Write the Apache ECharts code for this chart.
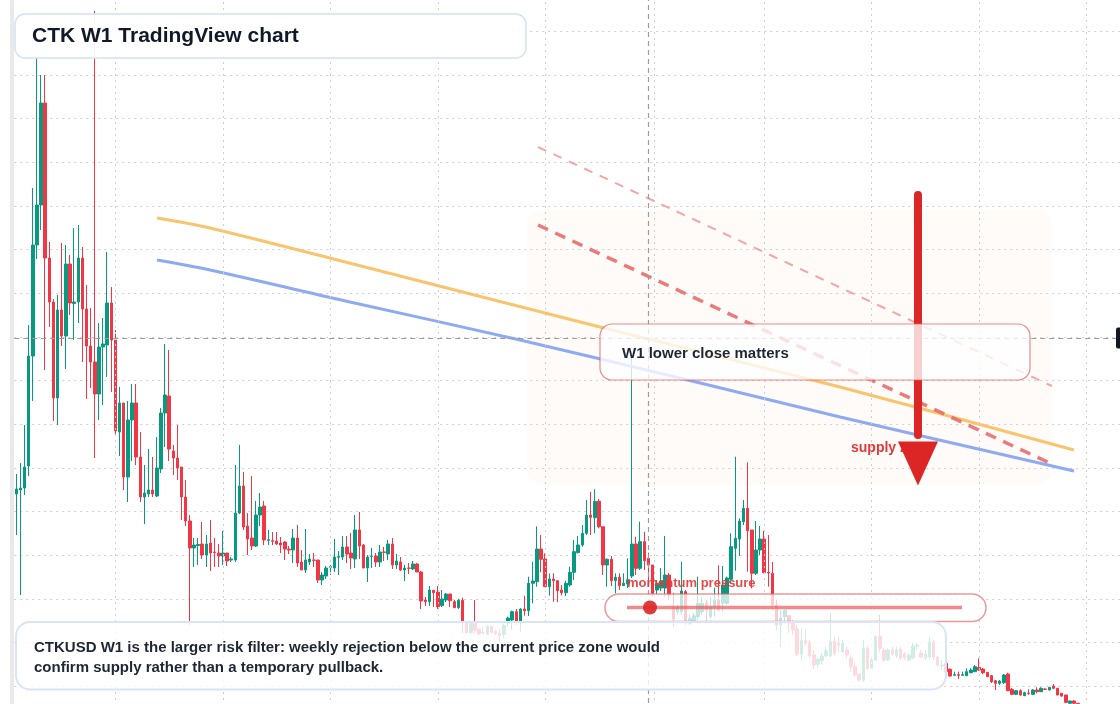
<!DOCTYPE html>
<html><head><meta charset="utf-8">
<script src="https://cdn.jsdelivr.net/npm/echarts@6/dist/echarts.min.js"></script>
<style>html,body{margin:0;padding:0;background:#fff;overflow:hidden;width:1120px;height:704px;position:relative}
#chart{position:absolute;left:0;top:-13px;width:1122px;height:743px}</style>
</head><body><div id="chart"></div>
<script>
// Weekly CTKUSD candles: [open, high, low, close]
const ohlc = [
[2.36,2.56,1.95,2.41],[2.40,2.67,1.35,2.42],[2.42,3.05,2.35,2.63],[2.64,4.05,2.54,3.74],[3.74,5.42,3.29,4.85],
[4.85,6.72,4.71,5.25],[5.25,6.55,5.00,6.27],[6.27,6.55,3.60,4.72],[4.72,4.88,4.03,4.28],[4.28,4.31,3.09,3.32],
[3.32,4.35,3.05,4.20],[4.20,4.87,3.84,3.94],[3.94,4.85,3.61,4.66],[4.66,4.75,4.15,4.27],[4.265,5.02,3.90,4.28],
[4.28,5.05,4.07,4.72],[4.72,4.83,3.68,4.21],[4.21,4.45,3.31,3.84],[3.84,4.22,3.42,3.68],[3.68,7.19,2.72,3.36],
[3.36,4.07,3.10,3.83],[3.83,4.12,3.25,3.86],[3.85,4.78,3.53,4.27],[4.27,4.43,3.38,3.90],[3.90,4.00,2.95,2.99],
[2.98,3.43,2.74,3.27],[3.27,3.27,2.40,2.53],[2.53,3.29,2.28,3.10],[3.10,3.46,2.69,3.27],[3.27,3.46,2.65,2.73],
[2.73,2.98,2.28,2.33],[2.33,2.65,2.06,2.37],[2.36,2.81,2.33,2.40],[2.40,2.73,2.33,2.36],[2.34,2.93,2.33,2.62],
[2.61,3.22,2.57,3.17],[3.17,3.86,2.83,3.35],[3.34,3.80,2.69,2.81],[2.79,2.85,2.55,2.72],[2.72,3.05,2.50,2.62],
[2.63,2.63,2.10,2.33],[2.33,2.50,2.04,2.09],[2.09,2.15,1.05,1.82],[1.82,1.92,1.63,1.85],[1.845,1.92,1.65,1.855],
[1.86,2.08,1.71,1.75],[1.75,1.95,1.63,1.86],[1.87,2.10,1.59,1.77],[1.78,1.92,1.63,1.775],[1.77,1.86,1.63,1.74],
[1.74,1.99,1.65,1.77],[1.77,1.77,1.64,1.69],[1.70,1.73,1.68,1.71],[1.70,2.65,1.68,2.17],[2.17,2.85,2.16,2.44],
[2.44,2.58,2.00,2.03],[2.04,2.17,1.75,1.91],[1.92,2.54,1.80,1.84],[1.84,2.29,1.83,2.15],[2.15,2.37,2.04,2.23],
[2.24,2.29,1.85,1.90],[1.897,2.00,1.85,1.903],[1.893,1.98,1.85,1.887],[1.89,1.98,1.85,1.86],[1.87,1.93,1.77,1.85],
[1.88,1.89,1.70,1.81],[1.81,1.84,1.76,1.80],[1.80,2.01,1.67,1.92],[1.92,2.05,1.63,1.67],[1.68,1.80,1.60,1.60],
[1.60,2.01,1.57,1.70],[1.68,1.76,1.65,1.71],[1.70,1.77,1.63,1.697],[1.70,1.70,1.47,1.50],[1.50,1.58,1.45,1.55],
[1.54,1.64,1.51,1.62],[1.627,1.65,1.55,1.633],[1.62,1.91,1.58,1.73],[1.727,1.79,1.55,1.733],[1.73,1.94,1.70,1.83],
[1.83,1.94,1.67,1.76],[1.77,1.97,1.61,1.72],[1.71,2.15,1.62,2.00],[2.00,2.18,1.71,1.84],[1.85,1.86,1.62,1.62],
[1.62,1.75,1.48,1.73],[1.737,1.82,1.62,1.74],[1.74,1.77,1.63,1.68],[1.68,1.85,1.63,1.78],[1.78,1.83,1.69,1.777],
[1.76,1.90,1.70,1.86],[1.86,1.92,1.61,1.65],[1.65,1.76,1.61,1.69],[1.68,1.73,1.59,1.60],[1.60,1.65,1.49,1.62],
[1.62,1.67,1.56,1.617],[1.61,1.69,1.60,1.66],[1.66,1.67,1.58,1.58],[1.58,1.59,1.21,1.29],[1.30,1.33,1.24,1.283],
[1.283,1.44,1.24,1.40],[1.397,1.40,1.23,1.373],[1.38,1.44,1.21,1.233],[1.243,1.40,1.23,1.31],[1.30,1.37,1.28,1.36],
[1.36,1.36,1.23,1.293],[1.283,1.30,1.22,1.223],[1.223,1.313,1.21,1.297],[1.297,1.323,0.97,1.077],[1.077,1.077,0.97,0.973],
[0.973,1.087,0.967,1.067],[1.067,1.30,0.967,1.00],[1.01,1.01,0.96,0.96],[0.973,1.033,0.957,0.97],[0.957,1.043,0.953,1.037],
[1.037,1.037,0.967,0.973],[0.99,1.00,0.95,0.967],[0.97,1.01,0.883,0.947],[0.957,1.067,0.917,1.043],[1.073,1.133,1.033,1.12],
[1.10,1.193,1.00,1.183],[1.183,1.21,1.05,1.083],[1.083,1.217,0.983,1.21],[1.21,1.343,1.143,1.193],[1.193,1.533,1.14,1.467],
[1.467,1.683,1.267,1.49],[1.483,2.037,1.433,1.81],[1.81,1.95,1.577,1.707],[1.71,1.767,1.433,1.433],[1.433,1.567,1.343,1.51],
[1.51,1.567,1.283,1.493],[1.493,1.493,1.277,1.393],[1.40,1.45,1.347,1.373],[1.373,1.493,1.34,1.467],[1.45,1.633,1.433,1.577],
[1.577,1.90,1.50,1.783],[1.773,1.94,1.767,1.85],[1.85,2.05,1.833,1.967],[1.967,2.30,1.95,2.15],[2.15,2.383,1.95,2.127],
[2.123,2.407,1.967,2.287],[2.287,2.31,2.017,2.033],[2.033,2.033,1.55,1.65],[1.65,1.717,1.433,1.707],[1.707,1.74,1.44,1.493],
[1.493,1.567,1.367,1.527],[1.527,1.567,1.40,1.443],[1.443,1.567,1.44,1.467],[1.46,1.717,1.42,1.503],[1.54,3.75,1.52,1.86],
[1.86,1.933,1.55,1.617],[1.617,2.083,1.60,1.883],[1.883,1.983,1.60,1.693],[1.717,1.773,1.50,1.65],[1.65,1.65,1.34,1.367],
[1.40,1.50,1.35,1.467],[1.42,1.62,1.39,1.49],[1.42,1.94,1.33,1.55],[1.55,1.57,1.30,1.35],[1.233,1.37,1.03,1.11],
[1.183,1.25,1.15,1.233],[1.183,1.683,1.15,1.39],[1.383,1.40,1.05,1.067],[1.067,1.15,1.05,1.117],[1.093,1.17,1.08,1.143],
[1.133,1.533,1.10,1.267],[1.183,1.33,1.15,1.267],[1.267,1.30,1.09,1.20],[1.133,1.333,1.12,1.233],[1.233,1.423,1.133,1.30],
[1.30,1.647,1.183,1.20],[1.267,1.64,1.183,1.45],[1.267,1.533,1.25,1.52],[1.507,1.967,1.47,1.833],[1.817,2.733,1.593,1.917],
[1.91,2.117,1.74,2.09],[2.083,2.30,2.05,2.217],[2.217,2.677,1.583,1.993],[2.00,2.00,1.417,1.567],[1.567,2.09,1.55,1.80],
[1.80,2.04,1.75,1.91],[1.91,1.99,1.567,1.573],[1.577,1.95,1.433,1.57],[1.567,1.68,1.20,1.25],[1.25,1.30,1.00,1.05],
[1.05,1.20,0.833,1.117],[1.133,1.20,1.067,1.20],[1.143,1.143,0.973,1.067],[1.073,1.10,0.95,1.00],[1.01,1.05,0.74,0.757],
[0.757,1.017,0.693,0.893],[0.893,1.01,0.84,0.867],[0.873,0.90,0.72,0.743],[0.75,0.80,0.61,0.65],[0.657,0.72,0.62,0.707],
[0.693,0.77,0.66,0.74],[0.74,0.833,0.733,0.793],[0.74,1.173,0.73,0.883],[0.883,0.933,0.74,0.767],[0.867,0.933,0.783,0.85],
[0.783,0.90,0.77,0.867],[0.80,0.833,0.72,0.75],[0.717,0.75,0.583,0.633],[0.633,0.667,0.533,0.55],[0.56,0.56,0.483,0.50],
[0.50,0.90,0.48,0.817],[0.817,0.84,0.60,0.617],[0.617,0.73,0.60,0.70],[0.70,0.95,0.69,0.933],[0.933,1.15,0.78,0.817],
[0.80,0.82,0.68,0.70],[0.70,0.82,0.69,0.80],[0.80,0.83,0.74,0.76],[0.74,0.83,0.72,0.80],[0.81,0.83,0.70,0.72],
[0.76,0.78,0.70,0.72],[0.70,0.77,0.69,0.75],[0.72,0.87,0.71,0.84],[0.84,0.87,0.80,0.85],[0.77,0.80,0.72,0.73],
[0.72,0.80,0.70,0.76],[0.73,0.93,0.71,0.88],[0.88,0.90,0.70,0.73],[0.73,0.74,0.63,0.65],[0.64,0.70,0.60,0.65],
[0.667,0.70,0.57,0.583],[0.607,0.617,0.533,0.54],[0.547,0.583,0.54,0.553],[0.553,0.583,0.51,0.547],[0.547,0.583,0.543,0.553],
[0.543,0.617,0.54,0.583],[0.573,0.617,0.567,0.60],[0.583,0.65,0.58,0.633],[0.627,0.717,0.59,0.60],[0.61,0.62,0.56,0.573],
[0.577,0.58,0.53,0.533],[0.543,0.55,0.47,0.483],[0.493,0.50,0.40,0.467],[0.467,0.50,0.45,0.49],[0.473,0.56,0.46,0.55],
[0.56,0.573,0.39,0.393],[0.407,0.42,0.35,0.357],[0.357,0.40,0.35,0.393],[0.393,0.407,0.343,0.35],[0.343,0.383,0.34,0.373],
[0.37,0.407,0.35,0.367],[0.357,0.41,0.35,0.40],[0.40,0.427,0.367,0.383],[0.383,0.427,0.38,0.417],[0.41,0.417,0.40,0.407],
[0.40,0.43,0.397,0.427],[0.44,0.46,0.41,0.417],[0.417,0.42,0.347,0.35],[0.367,0.37,0.333,0.34],[0.35,0.353,0.27,0.277],
[0.267,0.293,0.26,0.29],[0.29,0.30,0.263,0.267],[0.267,0.27,0.24,0.253]
];
const rightPadBars = 10;
const firstWeek = '2020-11-02';
// moving-average style curves: [bar index, price]
const maOrange = [[34.05,5.12],[46.88,5.02],[92.86,4.54],[141.26,4.03],[199.35,3.43],[255.96,2.80]];
const maBlue = [[34.05,4.70],[46.88,4.60],[80.76,4.28],[121.9,3.90],[165.5,3.47],[199.35,3.13],[255.96,2.59]];
// descending trendlines
const trendUpper = [[126.26,5.83],[250.65,3.44]];
const trendLower = [[126.26,5.05],[251.13,2.65]];
// downward arrow (bar index, price)
const arrowShaft = [[218.22,5.35],[218.22,2.95]];
const arrowHead = [[218.22,2.665]];
// time grid (bar positions) and crosshair
const timeGrid = [24.06,50.10,76.09,102.13,128.10,154.45,181.03,206.95,233.06,258.96];
const crossBar = 153.0, crossPrice = 3.92;
const priceStep = 0.4367;

const dates = [];
{ const d0 = new Date(firstWeek + 'T00:00:00Z');
  for (let i = 0; i < ohlc.length + rightPadBars; i++) {
    const d = new Date(d0.getTime() + i * 7 * 86400000);
    dates.push(d.toISOString().slice(0, 10));
  } }

const OY = 13; // container is shifted up by 13px
const FONT = '"Liberation Sans", Arial, "Noto Sans", sans-serif';
const chart = echarts.init(document.getElementById('chart'), null, {renderer: 'canvas'});
const nCat = ohlc.length + rightPadBars;

chart.setOption({
  animation: false,
  backgroundColor: '#ffffff',
  grid: {left: 14.23, right: 0.4, top: 0, bottom: 0, containLabel: false},
  xAxis: [
    {type: 'category', data: dates, boundaryGap: true, show: false},
    {type: 'value', min: -0.5, max: nCat - 0.5, show: false}
  ],
  yAxis: [{
    type: 'value', min: 0, max: 7.43, interval: priceStep, position: 'right',
    axisLine: {show: false}, axisTick: {show: false}, axisLabel: {show: false},
    splitLine: {show: true, lineStyle: {color: '#cfcfcf', type: [2, 4], width: 1}}
  }],
  series: [
    {type: 'line', xAxisIndex: 1, data: [], z: 1, silent: true,
     markLine: {silent: true, symbol: ['none', 'none'], label: {show: false}, animation: false,
       lineStyle: {color: '#cfcfcf', type: [2, 4], width: 1},
       data: timeGrid.map(v => ({xAxis: v}))}},
    {type: 'candlestick', xAxisIndex: 0, z: 2, silent: true, barWidth: 3,
     data: ohlc.map(r => [r[0], r[3], r[2], r[1]]),
     itemStyle: {color: '#089981', color0: '#f23645', borderColor: '#089981', borderColor0: '#f23645', borderWidth: 1}},
    {type: 'line', xAxisIndex: 1, data: [], z: 4, silent: true,
     markLine: {silent: true, symbol: ['none', 'none'], label: {show: false}, animation: false,
       lineStyle: {color: '#9c9c9c', type: [5, 4], width: 1.2},
       data: [{xAxis: crossBar}, {yAxis: crossPrice}]}},
    {type: 'line', xAxisIndex: 1, data: maOrange, smooth: 0.3, symbol: 'none', z: 3, silent: true,
     lineStyle: {color: '#f8c46e', width: 3}},
    {type: 'line', xAxisIndex: 1, data: maBlue, smooth: 0.3, symbol: 'none', z: 3, silent: true,
     lineStyle: {color: '#8eaaf3', width: 3}},
    {type: 'line', xAxisIndex: 1, data: trendUpper, symbol: 'none', z: 3, silent: true,
     lineStyle: {color: 'rgba(240,150,150,0.85)', width: 2, type: [9, 8]}},
    {type: 'line', xAxisIndex: 1, data: trendLower, symbol: 'none', z: 3, silent: true,
     lineStyle: {color: 'rgba(232,100,100,0.85)', width: 3.5, type: [11, 8]}},
    {type: 'line', xAxisIndex: 1, data: arrowShaft, symbol: 'none', z: 6, silent: true,
     lineStyle: {color: '#dc2626', width: 8, cap: 'round'}},
    {type: 'scatter', xAxisIndex: 1, data: arrowHead, symbol: 'triangle', symbolSize: [40, 44], symbolRotate: 180,
     z: 6, silent: true, itemStyle: {color: '#dc2626', opacity: 1}}
  ],
  graphic: [
    {type: 'rect', z: 1, silent: true, shape: {x: 10, y: 0, width: 4, height: 760}, style: {fill: '#e9e9e9'}},
    {type: 'rect', z: 1, silent: true, shape: {x: 527, y: 210 + OY, width: 525, height: 275, r: 16},
     style: {fill: 'rgba(245,215,190,0.10)'}},
    {type: 'text', z: 5, silent: true, style: {x: 851, y: 448 + OY, text: 'supply zone', fill: '#e03a3a',
     font: 'bold 14px ' + FONT, verticalAlign: 'middle', align: 'left'}},
    // W1 box
    {type: 'rect', z: 10, silent: true, shape: {x: 600, y: 324 + OY, width: 430, height: 56, r: 12},
     style: {fill: 'rgba(255,255,255,0.78)', stroke: 'rgba(232,90,90,0.7)', lineWidth: 1.2}},
    {type: 'text', z: 11, silent: true, style: {x: 622, y: 354 + OY, text: 'W1 lower close matters', fill: '#1f2633',
     font: 'bold 15px ' + FONT, verticalAlign: 'middle', align: 'left'}},
    // momentum pill
    {type: 'rect', z: 10, silent: true, shape: {x: 605, y: 594 + OY, width: 381, height: 27.5, r: 13.75},
     style: {fill: 'rgba(255,255,255,0.75)', stroke: 'rgba(230,95,95,0.65)', lineWidth: 1.5}},
    {type: 'line', z: 11, silent: true, shape: {x1: 627, y1: 607.5 + OY, x2: 962, y2: 607.5 + OY},
     style: {stroke: 'rgba(232,90,90,0.7)', lineWidth: 3.5}},
    {type: 'circle', z: 12, silent: true, shape: {cx: 650, cy: 607.5 + OY, r: 7}, style: {fill: 'rgba(220,38,38,0.9)'}},
    {type: 'text', z: 12, silent: true, style: {x: 627, y: 583 + OY, text: 'momentum pressure', fill: 'rgba(226,60,60,0.92)',
     font: 'bold 13px ' + FONT, verticalAlign: 'middle', align: 'left'}},
    // title box
    {type: 'rect', z: 10, silent: true, shape: {x: 15, y: 14 + OY, width: 511, height: 44, r: 10},
     style: {fill: 'rgba(255,255,255,0.92)', stroke: '#d3e2f6', lineWidth: 1.5}},
    {type: 'text', z: 11, silent: true, style: {x: 32, y: 36.5 + OY, text: 'CTK W1 TradingView chart', fill: '#111827',
     font: 'bold 21px ' + FONT, verticalAlign: 'middle', align: 'left'}},
    // caption box
    {type: 'rect', z: 10, silent: true, shape: {x: 16, y: 622 + OY, width: 930, height: 67.5, r: 14},
     style: {fill: 'rgba(255,255,255,0.82)', stroke: '#d8e4f8', lineWidth: 2}},
    {type: 'text', z: 11, silent: true, style: {x: 34, y: 648 + OY, fill: '#1f2633', font: 'bold 15px ' + FONT,
     verticalAlign: 'middle', align: 'left',
     text: 'CTKUSD W1 is the larger risk filter: weekly rejection below the current price zone would'}},
    {type: 'text', z: 11, silent: true, style: {x: 34, y: 668 + OY, fill: '#1f2633', font: 'bold 15px ' + FONT,
     verticalAlign: 'middle', align: 'left',
     text: 'confirm supply rather than a temporary pullback.'}},
    // crosshair price tag (cut at right edge)
    {type: 'rect', z: 12, silent: true, shape: {x: 1116, y: 327.5 + OY, width: 8, height: 21, r: 2}, style: {fill: '#131722'}}
  ]
});
</script>
</body></html>
